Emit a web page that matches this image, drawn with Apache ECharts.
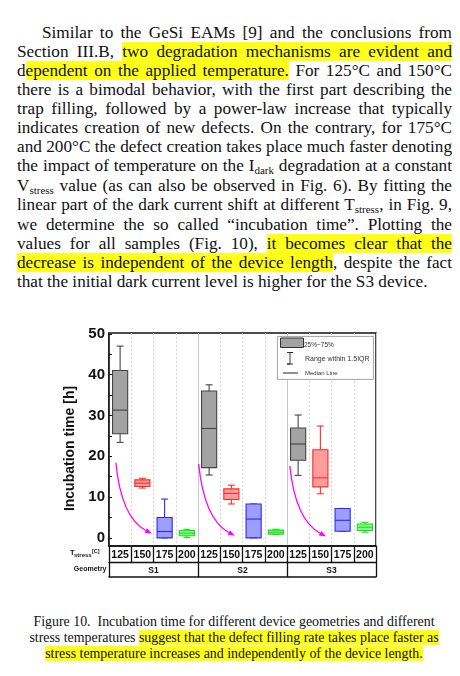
<!DOCTYPE html>
<html>
<head>
<meta charset="utf-8">
<script src="https://cdn.jsdelivr.net/npm/echarts@6/dist/echarts.min.js"></script>
<style>
    html, body { margin: 0; padding: 0; background: #fff; }
    #page { position: relative; width: 460px; height: 676px; overflow: hidden; }
    #text {
        position: absolute; left: 17px; top: 22.6px; width: 435px;
        font-family: "Liberation Serif", serif; font-size: 17.2px; line-height: 19.13px; color: #111;
    }
    #text div { white-space: nowrap; text-align: justify; text-align-last: justify; }
    #text div.last { text-align: left; text-align-last: left; }
    .hl { background: #ffff1a; }
    .sb { font-size: 11px; line-height: 1; vertical-align: -2.5px; }
    #caption {
        position: absolute; left: 0; top: 614.2px; width: 468px; text-align: center;
        font-family: "Liberation Serif", serif; font-size: 13.9px; line-height: 15.8px; color: #111;
    }
    #caption div { white-space: nowrap; }
    #chart { position: absolute; left: 0; top: 310px; width: 460px; height: 280px; }
</style>
</head>
<body>
<div id="page">
    <div id="text">
        <div style="text-indent:25px">Similar to the GeSi EAMs [9] and the conclusions from</div>
        <div>Section III.B, <span class="hl">two degradation mechanisms are evident and</span></div>
        <div>d<span class="hl">ependent on the applied temperature.</span> For 125°C and 150°C</div>
        <div>there is a bimodal behavior, with the first part describing the</div>
        <div>trap filling, followed by a power-law increase that typically</div>
        <div>indicates creation of new defects. On the contrary, for 175°C</div>
        <div>and 200°C the defect creation takes place much faster denoting</div>
        <div>the impact of temperature on the I<span class="sb">dark</span> degradation at a constant</div>
        <div>V<span class="sb">stress</span> value (as can also be observed in Fig. 6). By fitting the</div>
        <div>linear part of the dark current shift at different T<span class="sb">stress</span>, in Fig. 9,</div>
        <div>we determine the so called “incubation time”. Plotting the</div>
        <div>values for all samples (Fig. 10), <span class="hl">it becomes clear that the</span></div>
        <div><span class="hl">decrease is independent of the device length</span>, despite the fact</div>
        <div class="last">that the initial dark current level is higher for the S3 device.</div>
    </div>
    <div id="chart"></div>
    <div id="caption">
        <div>Figure 10.&nbsp; Incubation time for different device geometries and different</div>
        <div>stress temperatures <span class="hl">suggest that the defect filling rate takes place faster as</span></div>
        <div><span class="hl">stress temperature increases and independently of the device length.</span></div>
    </div>
</div>
<script>
    // 数据
    var tempLabels = ['125', '150', '175', '200', '125', '150', '175', '200', '125', '150', '175', '200'];
    var geometries = ['S1', 'S2', 'S3'];
    var yTicks = [0, 10, 20, 30, 40, 50];
    var yMinorTicks = [0, 5, 10, 15, 20, 25, 30, 35, 40, 45, 50];
    // [low, Q1, median, Q3, high]  (h)
    var s1Boxes = [[23.4, 25.5, 31.3, 41.0, 47.0], [12.2, 12.6, 13.4, 14.2, 14.6], [0, 0, 1.55, 5.0, 9.5], [0.1, 0.5, 1.15, 1.8, 2.1]];
    var s2Boxes = [[15.4, 17.2, 26.8, 36.0, 37.5], [8.3, 9.4, 10.9, 12.0, 12.9], [0, 0, 4.6, 8.3, 8.3], [0.8, 0.9, 1.4, 1.9, 2.1]];
    var s3Boxes = [[15.3, 19.0, 23.0, 26.9, 30.1], [10.8, 12.5, 14.7, 21.6, 27.4], [1.6, 1.6, 4.3, 7.2, 7.2], [1.4, 1.8, 2.6, 3.4, 3.8]];
    // 箭头: 起点, 控制点, 终点 (x 为类目位置)
    var arrowPaths = [
        [0.31, 18.4, 0.55, 5.0, 1.93, 1.0],
        [4.03, 18.1, 4.28, 4.6, 5.66, 0.5],
        [8.13, 17.6, 8.37, 4.5, 9.76, 0.3]
    ];

    var boxColors = [
        {fill: '#a3a3a3', line: '#444444'},
        {fill: '#ff9c9c', line: '#ff2a2a'},
        {fill: '#9e9eff', line: '#2a2aff'},
        {fill: '#86ff86', line: '#1fdc1f'}
    ];

    var boxData = [];
    [s1Boxes, s2Boxes, s3Boxes].forEach(function (group, g) {
        group.forEach(function (b, t) {
            boxData.push([g * 4 + t].concat(b));
        });
    });

    function renderBox(params, api) {
        var cat = api.value(0);
        var low = api.coord([cat, api.value(1)]);
        var q1 = api.coord([cat, api.value(2)]);
        var med = api.coord([cat, api.value(3)]);
        var q3 = api.coord([cat, api.value(4)]);
        var high = api.coord([cat, api.value(5)]);
        var bw = api.size([1, 0])[0] * 0.68;
        var cw = 7;
        var c = boxColors[cat % 4];
        var x = med[0];
        var ls = {stroke: c.line, lineWidth: 1.1};
        return {
            type: 'group',
            children: [
                {type: 'line', shape: {x1: x, y1: high[1], x2: x, y2: q3[1]}, style: ls},
                {type: 'line', shape: {x1: x, y1: q1[1], x2: x, y2: low[1]}, style: ls},
                {type: 'line', shape: {x1: x - cw / 2, y1: high[1], x2: x + cw / 2, y2: high[1]}, style: ls},
                {type: 'line', shape: {x1: x - cw / 2, y1: low[1], x2: x + cw / 2, y2: low[1]}, style: ls},
                {type: 'rect', shape: {x: x - bw / 2, y: q3[1], width: bw, height: q1[1] - q3[1]},
                    style: {fill: c.fill, stroke: c.line, lineWidth: 1.1}},
                {type: 'line', shape: {x1: x - bw / 2, y1: med[1], x2: x + bw / 2, y2: med[1]}, style: ls}
            ]
        };
    }

    function renderArrow(params, api) {
        var p0 = api.coord([api.value(0), api.value(1)]);
        var pc = api.coord([api.value(2), api.value(3)]);
        var p1 = api.coord([api.value(4), api.value(5)]);
        var ang = Math.atan2(p1[1] - pc[1], p1[0] - pc[0]);
        var L = 7, W = 2.6;
        var bx = p1[0] - L * Math.cos(ang), by = p1[1] - L * Math.sin(ang);
        return {
            type: 'group',
            children: [
                {type: 'bezierCurve', shape: {x1: p0[0], y1: p0[1], cpx1: pc[0], cpy1: pc[1], x2: bx, y2: by},
                    style: {stroke: '#ff00ff', lineWidth: 1.3, fill: null}},
                {type: 'polygon', shape: {points: [p1,
                        [bx + W * Math.sin(ang), by - W * Math.cos(ang)],
                        [bx - W * Math.sin(ang), by + W * Math.cos(ang)]]},
                    style: {fill: '#ff00ff'}}
            ]
        };
    }

    var font = 'Liberation Sans';
    var chart = echarts.init(document.getElementById('chart'));
    var option = {
        backgroundColor: '#fff',
        animation: false,
        grid: {
            left: 109, right: 84, top: 23, bottom: 44,
            show: true, borderColor: '#111', borderWidth: 1.5
        },
        xAxis: [
            {
                type: 'category',
                position: 'bottom',
                data: tempLabels,
                axisLine: {onZero: false, lineStyle: {color: '#111', width: 1.5}},
                axisTick: {show: true, interval: 0, length: 16, lineStyle: {color: '#111', width: 1.3}},
                axisLabel: {interval: 0, margin: 3.5, fontFamily: font, fontWeight: 'bold', fontSize: 10.5, color: '#111'},
                splitLine: {show: true, interval: 0, lineStyle: {color: '#cfcfcf', type: [2, 2], width: 0.8}}
            },
            {
                type: 'category',
                position: 'bottom',
                offset: 16,
                data: geometries,
                axisLine: {onZero: false, lineStyle: {color: '#111', width: 1.3}},
                axisTick: {show: true, interval: 0, length: 15, lineStyle: {color: '#111', width: 1.3}},
                axisLabel: {interval: 0, margin: 4, fontFamily: font, fontWeight: 'bold', fontSize: 8.5, color: '#111'},
                splitLine: {show: true, interval: 0, lineStyle: {color: '#c8c8c8', width: 1}}
            },
            {
                type: 'category',
                position: 'bottom',
                offset: 31,
                data: geometries,
                axisLine: {onZero: false, lineStyle: {color: '#111', width: 1.5}},
                axisTick: {show: false},
                axisLabel: {show: false}
            },
            {
                type: 'value',
                position: 'bottom',
                min: 0,
                max: 12,
                show: false
            }
        ],
        yAxis: {
            type: 'value',
            min: -2,
            max: 50.2,
            name: 'Incubation time [h]',
            nameLocation: 'middle',
            nameGap: 24,
            nameTextStyle: {fontFamily: font, fontSize: 14, fontWeight: 'bold', color: '#111', padding: [0, 18, 0, 0]},
            axisLine: {show: true, lineStyle: {color: '#111', width: 1.5}},
            axisTick: {show: true, inside: true, length: 3, customValues: yMinorTicks, lineStyle: {color: '#111', width: 1}},
            axisLabel: {customValues: yTicks, margin: 4, fontFamily: font, fontWeight: 'bold', fontSize: 15, color: '#111'},
            splitLine: {show: false}
        },
        graphic: [
            // 表格行标题
            {type: 'text', x: 70, y: 243, style: {text: 'T', verticalAlign: 'middle',
                fontFamily: font, fontSize: 7.5, fontWeight: 'bold', fill: '#111'}},
            {type: 'text', x: 74, y: 245.5, style: {text: 'stress', verticalAlign: 'middle',
                fontFamily: font, fontSize: 6, fontWeight: 'bold', fill: '#111'}},
            {type: 'text', x: 92, y: 241.5, style: {text: '[C]', verticalAlign: 'middle',
                fontFamily: font, fontSize: 5.5, fontWeight: 'bold', fill: '#111'}},
            {type: 'text', x: 106.5, y: 259.5, style: {text: 'Geometry', align: 'right', verticalAlign: 'middle',
                fontFamily: font, fontSize: 7, fontWeight: 'bold', fill: '#111'}},
            // 图例
            {type: 'rect', left: 277, top: 26, shape: {width: 96, height: 43}, style: {fill: '#fff', stroke: '#8a8a8a', lineWidth: 0.8}, z: 10},
            {type: 'rect', left: 280, top: 27.5, shape: {width: 23, height: 9.5}, style: {fill: '#a3a3a3', stroke: '#333', lineWidth: 1}, z: 11},
            {type: 'text', left: 304, top: 31.5, style: {text: '25%~75%', fontFamily: font, fontSize: 6.5, fill: '#333'}, z: 11},
            {type: 'polyline', shape: {points: [[287, 42.5], [293, 42.5], [290, 42.5], [290, 54], [287, 54], [293, 54]]}, style: {stroke: '#222', lineWidth: 0.9, fill: null}, z: 11},
            {type: 'text', left: 305, top: 46, style: {text: 'Range within 1.5IQR', fontFamily: font, fontSize: 7, fill: '#333'}, z: 11},
            {type: 'line', shape: {x1: 283, y1: 63, x2: 298, y2: 63}, style: {stroke: '#222', lineWidth: 1}, z: 11},
            {type: 'text', left: 305, top: 60, style: {text: 'Median Line', fontFamily: font, fontSize: 6, fill: '#333'}, z: 11}
        ],
        series: [
            {
                type: 'custom',
                name: 'boxes',
                xAxisIndex: 0,
                yAxisIndex: 0,
                renderItem: renderBox,
                encode: {x: 0, y: [1, 2, 3, 4, 5]},
                data: boxData,
                z: 5
            },
            {
                type: 'custom',
                name: 'arrows',
                xAxisIndex: 3,
                yAxisIndex: 0,
                renderItem: renderArrow,
                encode: {x: [0, 2, 4], y: [1, 3, 5]},
                data: arrowPaths,
                z: 4
            }
        ]
    };
    chart.setOption(option);
</script>
</body>
</html>
